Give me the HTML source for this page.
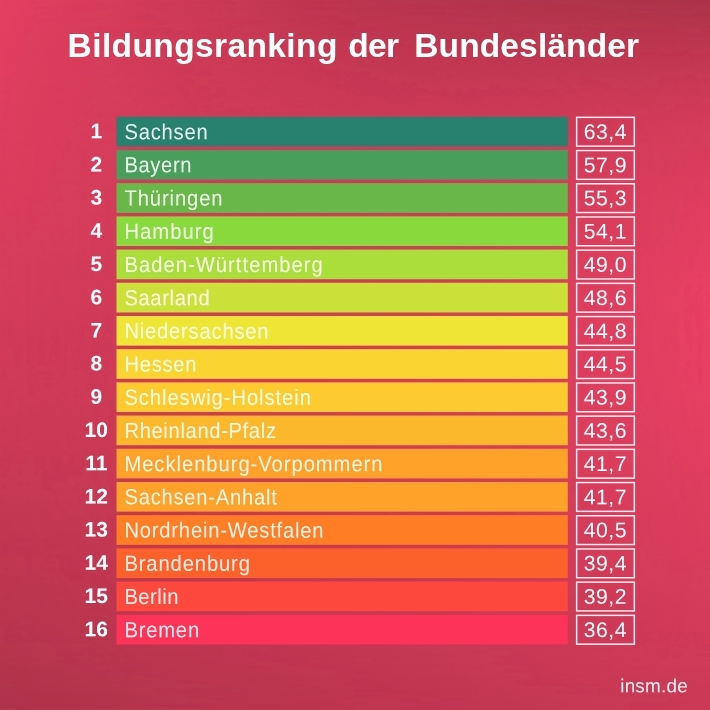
<!DOCTYPE html>
<html lang="de"><head><meta charset="utf-8"><title>Bildungsranking der Bundesländer</title>
<style>
html,body{margin:0;padding:0;}
body{width:710px;height:710px;overflow:hidden;position:relative;font-family:"Liberation Sans",sans-serif;color:#fff;background:#c83956;}
.bg{position:absolute;left:-12px;top:-12px;display:block;}
.w{position:absolute;left:-12px;top:-12px;width:734px;height:734px;overflow:hidden;filter:url(#jpg);}
.in{position:absolute;left:12px;top:12px;width:710px;height:710px;}
.t{position:absolute;left:0;top:0;transform-origin:0 0;font-weight:bold;font-size:33.5px;line-height:48px;white-space:nowrap;}
.x span{position:absolute;left:0;top:0;white-space:nowrap;line-height:24px;transform-origin:0 0;}
.rk{width:60px;text-align:center;font-weight:bold;font-size:21px;}
.lb{font-size:20.2px;opacity:0.92;}
.vl{width:60px;text-align:center;font-size:21.2px;letter-spacing:0.5px;}
.ft{position:absolute;left:0;top:0;transform-origin:0 0;transform:translate(620.2px,673.2px) skewY(0.05deg);font-size:18.9px;letter-spacing:0.23px;line-height:26px;white-space:nowrap;color:rgba(255,255,255,0.93);}
</style></head><body>
<svg width="0" height="0" style="position:absolute"><defs><filter id="jpg" filterUnits="userSpaceOnUse" x="0" y="0" width="734" height="734" color-interpolation-filters="sRGB">
<feColorMatrix in="SourceGraphic" type="matrix" values=".299 .587 .114 0 0 .299 .587 .114 0 0 .299 .587 .114 0 0 0 0 0 1 0" result="Y"/>
<feColorMatrix in="SourceGraphic" type="matrix" values=".3505 -.2935 -.057 0 .5 -.1495 .2065 -.057 0 .5 -.1495 -.2935 .443 0 .5 0 0 0 1 0" result="C"/>
<feGaussianBlur in="C" stdDeviation="1.7" result="Cb"/>
<feGaussianBlur in="Y" stdDeviation="0.5" result="Yb"/>
<feComposite in="Yb" in2="Cb" operator="arithmetic" k1="0" k2="1" k3="2" k4="-1"/>
</filter></defs></svg>
<div class="w"><div class="in">
<svg class="bg" width="734" height="734" viewBox="-12 -12 734 734">
<defs>
<linearGradient id="gB" gradientUnits="userSpaceOnUse" x1="0" y1="0" x2="710" y2="0"><stop offset="0" stop-color="#b0344c"/><stop offset="0.5" stop-color="#be3752"/><stop offset="1" stop-color="#cb3a57"/></linearGradient>
<linearGradient id="gT" gradientUnits="userSpaceOnUse" x1="0" y1="0" x2="710" y2="0"><stop offset="0.0000" stop-color="#e54062"/><stop offset="0.1408" stop-color="#d73c5c"/><stop offset="0.2817" stop-color="#cb3a57"/><stop offset="0.4225" stop-color="#c03752"/><stop offset="0.5634" stop-color="#b7354f"/><stop offset="0.7042" stop-color="#b2344d"/><stop offset="0.8451" stop-color="#af344b"/><stop offset="1.0000" stop-color="#ac334a"/></linearGradient>
<linearGradient id="mV" gradientUnits="userSpaceOnUse" x1="0" y1="0" x2="0" y2="710"><stop offset="0" stop-color="#fff"/><stop offset="1" stop-color="#000"/></linearGradient>
<linearGradient id="mH" gradientUnits="userSpaceOnUse" x1="0" y1="0" x2="710" y2="0"><stop offset="0" stop-color="#000"/><stop offset="1" stop-color="#fff"/></linearGradient>
<linearGradient id="gR" gradientUnits="userSpaceOnUse" x1="0" y1="0" x2="0" y2="710"><stop offset="0.0000" stop-color="#ec4165" stop-opacity="0.000"/><stop offset="0.0845" stop-color="#ec4165" stop-opacity="0.316"/><stop offset="0.1690" stop-color="#ec4165" stop-opacity="0.590"/><stop offset="0.2817" stop-color="#ec4165" stop-opacity="0.780"/><stop offset="0.4225" stop-color="#ec4165" stop-opacity="0.900"/><stop offset="0.5352" stop-color="#ec4165" stop-opacity="0.870"/><stop offset="0.6338" stop-color="#ec4165" stop-opacity="0.775"/><stop offset="0.7746" stop-color="#ec4165" stop-opacity="0.550"/><stop offset="0.9296" stop-color="#ec4165" stop-opacity="0.200"/><stop offset="1.0000" stop-color="#ec4165" stop-opacity="0.000"/></linearGradient>
<linearGradient id="gL" gradientUnits="userSpaceOnUse" x1="0" y1="0" x2="0" y2="710"><stop offset="0.0000" stop-color="#ec4165" stop-opacity="0.000"/><stop offset="0.2113" stop-color="#ec4165" stop-opacity="0.220"/><stop offset="0.5000" stop-color="#ec4165" stop-opacity="0.210"/><stop offset="0.7042" stop-color="#ec4165" stop-opacity="0.130"/><stop offset="1.0000" stop-color="#ec4165" stop-opacity="0.000"/></linearGradient>
<linearGradient id="mH2" gradientUnits="userSpaceOnUse" x1="0" y1="0" x2="710" y2="0"><stop offset="0" stop-color="#fff"/><stop offset="1" stop-color="#000"/></linearGradient>
<mask id="mkH2" maskUnits="userSpaceOnUse" x="-12" y="-12" width="734" height="734"><rect x="-12" y="-12" width="734" height="734" fill="url(#mH2)"/></mask>
<mask id="mkV" maskUnits="userSpaceOnUse" x="-12" y="-12" width="734" height="734"><rect x="-12" y="-12" width="734" height="734" fill="url(#mV)"/></mask>
<mask id="mkH" maskUnits="userSpaceOnUse" x="-12" y="-12" width="734" height="734"><rect x="-12" y="-12" width="734" height="734" fill="url(#mH)"/></mask>
</defs>
<rect x="-12" y="-12" width="734" height="734" fill="url(#gB)"/>
<rect x="-12" y="-12" width="734" height="734" fill="url(#gT)" mask="url(#mkV)"/>
<rect x="-12" y="-12" width="734" height="734" fill="url(#gR)" mask="url(#mkH)"/>
<rect x="-12" y="-12" width="734" height="734" fill="url(#gL)" mask="url(#mkH2)"/>
<rect x="116.5" y="116.75" width="451.30" height="29.7" fill="#277F6E"/>
<rect x="576.65" y="117.35" width="57.70" height="28.80" fill="none" stroke="#fff" stroke-opacity="0.9" stroke-width="1.5"/>
<rect x="116.5" y="149.95" width="451.30" height="29.7" fill="#4A9E5C"/>
<rect x="576.65" y="150.55" width="57.70" height="28.80" fill="none" stroke="#fff" stroke-opacity="0.9" stroke-width="1.5"/>
<rect x="116.5" y="183.15" width="451.30" height="29.7" fill="#6AB84A"/>
<rect x="576.65" y="183.75" width="57.70" height="28.80" fill="none" stroke="#fff" stroke-opacity="0.9" stroke-width="1.5"/>
<rect x="116.5" y="216.35" width="451.30" height="29.7" fill="#8ADA3D"/>
<rect x="576.65" y="216.95" width="57.70" height="28.80" fill="none" stroke="#fff" stroke-opacity="0.9" stroke-width="1.5"/>
<rect x="116.5" y="249.55" width="451.30" height="29.7" fill="#ABDE3B"/>
<rect x="576.65" y="250.15" width="57.70" height="28.80" fill="none" stroke="#fff" stroke-opacity="0.9" stroke-width="1.5"/>
<rect x="116.5" y="282.75" width="451.30" height="29.7" fill="#CCE23A"/>
<rect x="576.65" y="283.35" width="57.70" height="28.80" fill="none" stroke="#fff" stroke-opacity="0.9" stroke-width="1.5"/>
<rect x="116.5" y="315.95" width="451.30" height="29.7" fill="#F0E535"/>
<rect x="576.65" y="316.55" width="57.70" height="28.80" fill="none" stroke="#fff" stroke-opacity="0.9" stroke-width="1.5"/>
<rect x="116.5" y="349.15" width="451.30" height="29.7" fill="#FAD530"/>
<rect x="576.65" y="349.75" width="57.70" height="28.80" fill="none" stroke="#fff" stroke-opacity="0.9" stroke-width="1.5"/>
<rect x="116.5" y="382.35" width="451.30" height="29.7" fill="#FDCB30"/>
<rect x="576.65" y="382.95" width="57.70" height="28.80" fill="none" stroke="#fff" stroke-opacity="0.9" stroke-width="1.5"/>
<rect x="116.5" y="415.55" width="451.30" height="29.7" fill="#FDB92D"/>
<rect x="576.65" y="416.15" width="57.70" height="28.80" fill="none" stroke="#fff" stroke-opacity="0.9" stroke-width="1.5"/>
<rect x="116.5" y="448.75" width="451.30" height="29.7" fill="#FDA12A"/>
<rect x="576.65" y="449.35" width="57.70" height="28.80" fill="none" stroke="#fff" stroke-opacity="0.9" stroke-width="1.5"/>
<rect x="116.5" y="481.95" width="451.30" height="29.7" fill="#FDA12A"/>
<rect x="576.65" y="482.55" width="57.70" height="28.80" fill="none" stroke="#fff" stroke-opacity="0.9" stroke-width="1.5"/>
<rect x="116.5" y="515.15" width="451.30" height="29.7" fill="#FE7D25"/>
<rect x="576.65" y="515.75" width="57.70" height="28.80" fill="none" stroke="#fff" stroke-opacity="0.9" stroke-width="1.5"/>
<rect x="116.5" y="548.35" width="451.30" height="29.7" fill="#FE622B"/>
<rect x="576.65" y="548.95" width="57.70" height="28.80" fill="none" stroke="#fff" stroke-opacity="0.9" stroke-width="1.5"/>
<rect x="116.5" y="581.55" width="451.30" height="29.7" fill="#FD4A3E"/>
<rect x="576.65" y="582.15" width="57.70" height="28.80" fill="none" stroke="#fff" stroke-opacity="0.9" stroke-width="1.5"/>
<rect x="116.5" y="614.75" width="451.30" height="29.7" fill="#FD3359"/>
<rect x="576.65" y="615.35" width="57.70" height="28.80" fill="none" stroke="#fff" stroke-opacity="0.9" stroke-width="1.5"/>
</svg>
<div class="t" style="letter-spacing:0.39px;transform:translate(67.6px,21.7px) skewY(0.02deg)">Bildungsranking</div>
<div class="t" style="letter-spacing:-0.7px;transform:translate(348.3px,21.7px) skewY(0.02deg)">der</div>
<div class="t" style="letter-spacing:0.14px;transform:translate(414.2px,21.7px) skewY(0.02deg)">Bundesländer</div>
<div class="x">
<span class="rk" style="transform:translate(66.3px,119.20px) skewY(0.03deg)">1</span><span class="lb" style="letter-spacing:0.780px;transform:translate(124.4px,118.53px) skewY(0.03deg) scale(1,1.085)">Sachsen</span><span class="vl" style="transform:translate(575.4px,119.95px) skewY(0.03deg)">63,4</span>
<span class="rk" style="transform:translate(66.3px,152.40px) skewY(0.03deg)">2</span><span class="lb" style="letter-spacing:0.640px;transform:translate(124.4px,151.73px) skewY(0.03deg) scale(1,1.085)">Bayern</span><span class="vl" style="transform:translate(575.4px,153.15px) skewY(0.03deg)">57,9</span>
<span class="rk" style="transform:translate(66.3px,185.60px) skewY(0.03deg)">3</span><span class="lb" style="letter-spacing:0.906px;transform:translate(124.4px,184.93px) skewY(0.03deg) scale(1,1.085)">Thüringen</span><span class="vl" style="transform:translate(575.4px,186.35px) skewY(0.03deg)">55,3</span>
<span class="rk" style="transform:translate(66.3px,218.80px) skewY(0.03deg)">4</span><span class="lb" style="letter-spacing:1.053px;transform:translate(124.4px,218.13px) skewY(0.03deg) scale(1,1.085)">Hamburg</span><span class="vl" style="transform:translate(575.4px,219.55px) skewY(0.03deg)">54,1</span>
<span class="rk" style="transform:translate(66.3px,252.00px) skewY(0.03deg)">5</span><span class="lb" style="letter-spacing:1.041px;transform:translate(124.4px,251.33px) skewY(0.03deg) scale(1,1.085)">Baden-Württemberg</span><span class="vl" style="transform:translate(575.4px,252.75px) skewY(0.03deg)">49,0</span>
<span class="rk" style="transform:translate(66.3px,285.20px) skewY(0.03deg)">6</span><span class="lb" style="letter-spacing:0.633px;transform:translate(124.4px,284.53px) skewY(0.03deg) scale(1,1.085)">Saarland</span><span class="vl" style="transform:translate(575.4px,285.95px) skewY(0.03deg)">48,6</span>
<span class="rk" style="transform:translate(66.3px,318.40px) skewY(0.03deg)">7</span><span class="lb" style="letter-spacing:0.789px;transform:translate(124.4px,317.73px) skewY(0.03deg) scale(1,1.085)">Niedersachsen</span><span class="vl" style="transform:translate(575.4px,319.15px) skewY(0.03deg)">44,8</span>
<span class="rk" style="transform:translate(66.3px,351.60px) skewY(0.03deg)">8</span><span class="lb" style="letter-spacing:0.740px;transform:translate(124.4px,350.93px) skewY(0.03deg) scale(1,1.085)">Hessen</span><span class="vl" style="transform:translate(575.4px,352.35px) skewY(0.03deg)">44,5</span>
<span class="rk" style="transform:translate(66.3px,384.80px) skewY(0.03deg)">9</span><span class="lb" style="letter-spacing:0.941px;transform:translate(124.4px,384.13px) skewY(0.03deg) scale(1,1.085)">Schleswig-Holstein</span><span class="vl" style="transform:translate(575.4px,385.55px) skewY(0.03deg)">43,9</span>
<span class="rk" style="transform:translate(66.3px,418.00px) skewY(0.03deg)">10</span><span class="lb" style="letter-spacing:0.647px;transform:translate(124.4px,417.33px) skewY(0.03deg) scale(1,1.085)">Rheinland-Pfalz</span><span class="vl" style="transform:translate(575.4px,418.75px) skewY(0.03deg)">43,6</span>
<span class="rk" style="transform:translate(66.3px,451.20px) skewY(0.03deg)">11</span><span class="lb" style="letter-spacing:0.964px;transform:translate(124.4px,450.53px) skewY(0.03deg) scale(1,1.085)">Mecklenburg-Vorpommern</span><span class="vl" style="transform:translate(575.4px,451.95px) skewY(0.03deg)">41,7</span>
<span class="rk" style="transform:translate(66.3px,484.40px) skewY(0.03deg)">12</span><span class="lb" style="letter-spacing:0.768px;transform:translate(124.4px,483.73px) skewY(0.03deg) scale(1,1.085)">Sachsen-Anhalt</span><span class="vl" style="transform:translate(575.4px,485.15px) skewY(0.03deg)">41,7</span>
<span class="rk" style="transform:translate(66.3px,517.60px) skewY(0.03deg)">13</span><span class="lb" style="letter-spacing:0.797px;transform:translate(124.4px,516.93px) skewY(0.03deg) scale(1,1.085)">Nordrhein-Westfalen</span><span class="vl" style="transform:translate(575.4px,518.35px) skewY(0.03deg)">40,5</span>
<span class="rk" style="transform:translate(66.3px,550.80px) skewY(0.03deg)">14</span><span class="lb" style="letter-spacing:0.880px;transform:translate(124.4px,550.13px) skewY(0.03deg) scale(1,1.085)">Brandenburg</span><span class="vl" style="transform:translate(575.4px,551.55px) skewY(0.03deg)">39,4</span>
<span class="rk" style="transform:translate(66.3px,584.00px) skewY(0.03deg)">15</span><span class="lb" style="letter-spacing:0.506px;transform:translate(124.4px,583.33px) skewY(0.03deg) scale(1,1.085)">Berlin</span><span class="vl" style="transform:translate(575.4px,584.75px) skewY(0.03deg)">39,2</span>
<span class="rk" style="transform:translate(66.3px,617.20px) skewY(0.03deg)">16</span><span class="lb" style="letter-spacing:0.810px;transform:translate(124.4px,616.53px) skewY(0.03deg) scale(1,1.085)">Bremen</span><span class="vl" style="transform:translate(575.4px,617.95px) skewY(0.03deg)">36,4</span>
</div>
<div class="ft">insm.de</div>
</div></div>
</body></html>
